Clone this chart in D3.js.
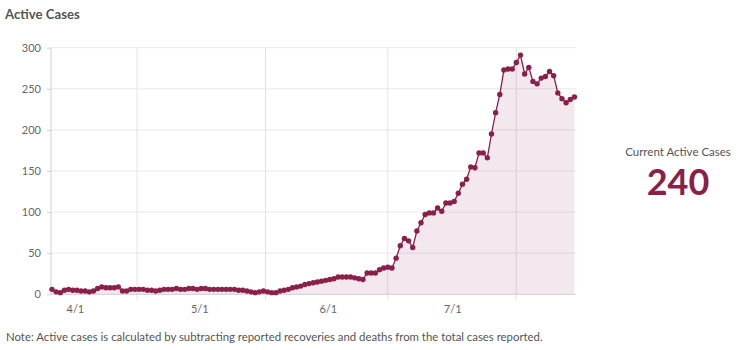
<!DOCTYPE html>
<html>
<head>
<meta charset="utf-8">
<script src="https://cdn.jsdelivr.net/npm/d3@7"></script>
<style>
  html, body { margin: 0; padding: 0; background: #fff; }
  svg { display: block; font-family: Lato, "Open Sans", sans-serif; }
</style>
</head>
<body>
<svg id="chart" width="740" height="350"></svg>
<script>
// Daily active case counts, one value per day starting 2020-03-26
const startDate = "2020-03-26";
const activeCases = [
  6, 3, 2, 5, 6, 5, 5, 4, 4, 3,
  4, 7, 9, 8, 8, 8, 9, 4, 4, 6,
  6, 6, 6, 5, 5, 4, 5, 6, 6, 6,
  7, 6, 6, 7, 7, 6, 7, 7, 6, 6,
  6, 6, 6, 6, 6, 5, 5, 4, 3, 2,
  3, 4, 3, 2, 2, 4, 5, 6, 8, 9,
  10, 12, 13, 14, 15, 16, 17, 18, 19, 21,
  21, 21, 21, 20, 19, 18, 26, 26, 26, 30,
  32, 33, 32, 44, 59, 68, 65, 57, 77, 87,
  97, 99, 99, 105, 101, 111, 111, 113, 123, 134,
  140, 155, 154, 172, 172, 166, 195, 221, 243, 273,
  274, 274, 282, 291, 268, 276, 259, 256, 263, 265,
  271, 266, 245, 238, 233, 237, 240
];
const monthTicks = ["2020-04-01", "2020-05-01", "2020-06-01", "2020-07-01"];
const monthLabels = ["4/1", "5/1", "6/1", "7/1"];
// vertical grid lines sit mid-month, between the labelled dates
const gridTimes = ["2020-04-15T12:00Z", "2020-05-16T12:00Z", "2020-06-15T00:00Z", "2020-07-16T00:00Z"];
const yTicks = [0, 50, 100, 150, 200, 250, 300];

const titleText = "Active Cases";
const noteText = "Note: Active cases is calculated by subtracting reported recoveries and deaths from the total cases reported.";
const currentLabel = "Current Active Cases";
const currentValue = activeCases[activeCases.length - 1];

const maroon = "#8b1f4b";
const parse = d3.utcParse("%Y-%m-%d");
const day0 = parse(startDate);
const series = activeCases.map((v, i) => ({ date: d3.utcDay.offset(day0, i), value: v }));

const svg = d3.select("#chart");
const plot = { left: 51, right: 576, top: 47.7, bottom: 294.3 };

const x = d3.scaleUtc()
  .domain([series[0].date, series[series.length - 1].date])
  .range([52, 574.4]);
const y = d3.scaleLinear().domain([0, 300]).range([plot.bottom, plot.top]);

// title
svg.append("text")
  .attr("x", 5).attr("y", 18.5)
  .attr("font-size", 13.2).attr("font-weight", 700)
  .attr("fill", "#555").text(titleText);

// horizontal grid
svg.append("g").selectAll("line").data(yTicks.filter(d => d > 0)).join("line")
  .attr("x1", plot.left).attr("x2", plot.right)
  .attr("y1", d => y(d)).attr("y2", d => y(d))
  .attr("stroke", "#e9e9e9").attr("stroke-width", 1);

// vertical grid with short ticks below the baseline
const gridDates = gridTimes.map(d3.isoParse);
svg.append("g").selectAll("line").data(gridDates).join("line")
  .attr("x1", d => x(d)).attr("x2", d => x(d))
  .attr("y1", plot.top).attr("y2", plot.bottom + 6)
  .attr("stroke", "#e3e3e3").attr("stroke-width", 1);

// area under the curve
const area = d3.area()
  .x(d => x(d.date)).y0(y(0)).y1(d => y(d.value));
svg.append("path").datum(series)
  .attr("d", area)
  .attr("fill", maroon).attr("fill-opacity", 0.1);

// y axis
const yAxis = d3.axisLeft(y).tickValues(yTicks).tickSize(4).tickPadding(6);
const gy = svg.append("g").attr("transform", `translate(${plot.left},0)`).call(yAxis);
gy.select(".domain").attr("stroke", "#cfcfcf").attr("d", `M0,${plot.top}V${plot.bottom}`);
gy.selectAll(".tick line").attr("stroke", "#cfcfcf");
gy.selectAll(".tick text").attr("fill", "#666").attr("font-size", 11)
  .attr("font-family", "Lato, sans-serif");

// x axis baseline
svg.append("line")
  .attr("x1", plot.left).attr("x2", plot.right)
  .attr("y1", plot.bottom).attr("y2", plot.bottom)
  .attr("stroke", "#cfcfcf");

// month labels
const tickDates = monthTicks.map(parse);
svg.append("g").selectAll("text").data(tickDates).join("text")
  .attr("x", d => x(d) - 1.5).attr("y", 313)
  .attr("text-anchor", "middle")
  .attr("font-size", 11).attr("fill", "#666")
  .text((d, i) => monthLabels[i]);

// line and markers
const line = d3.line().x(d => x(d.date)).y(d => y(d.value));
svg.append("path").datum(series)
  .attr("d", line)
  .attr("fill", "none").attr("stroke", maroon).attr("stroke-width", 1.3);
svg.append("g").selectAll("circle").data(series).join("circle")
  .attr("cx", d => x(d.date)).attr("cy", d => y(d.value))
  .attr("r", 2.7).attr("fill", maroon);

// current value panel
svg.append("text")
  .attr("x", 678).attr("y", 156)
  .attr("text-anchor", "middle")
  .attr("font-size", 11.5).attr("fill", "#555")
  .text(currentLabel);
svg.append("text")
  .attr("x", 678).attr("y", 195)
  .attr("text-anchor", "middle")
  .attr("font-size", 36).attr("font-weight", 700)
  .attr("fill", maroon)
  .text(currentValue);

// footnote, sized to span the width under the plot
const note = svg.append("text")
  .attr("x", 6).attr("y", 341)
  .attr("font-size", 10.5).attr("fill", "#555")
  .text(noteText);
const noteWidth = note.node().getComputedTextLength();
note.attr("font-size", 10.5 * 537 / noteWidth);
</script>
</body>
</html>
